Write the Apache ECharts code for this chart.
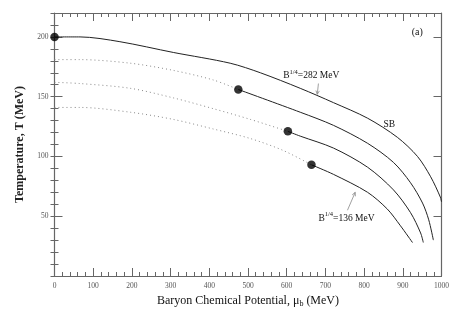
<!DOCTYPE html>
<html>
<head>
<meta charset="utf-8">
<script src="https://cdn.jsdelivr.net/npm/echarts@6/dist/echarts.min.js"></script>
<style>
  html, body { margin: 0; background: #fff; }
  #chart { width: 457px; height: 328px; }
</style>
</head>
<body>
<div id="chart"></div>
<script>
// top curve (SB), solid from mu = 0
const sbMu = [0, 66, 169, 307, 454, 532, 635, 721, 809, 886, 938, 972, 997, 1000]
const sbT = [200, 200, 196, 187, 178, 170, 157, 145, 132, 116, 100, 83, 66, 62]

// B^1/4 = 282 MeV curve: dotted up to the dot, then solid
const c1DotMu = [0, 66, 196, 307, 410, 475]
const c1DotT = [181, 181, 178, 172, 164, 156]
const c1Mu = [475, 635, 721, 809, 876, 920, 951, 967, 979]
const c1T = [156, 137, 126, 111, 95, 78, 61, 47, 30]

// middle curve
const c2DotMu = [0, 66, 196, 307, 410, 506, 603]
const c2DotT = [162, 161, 157, 149, 140, 131, 121]
const c2Mu = [603, 635, 721, 809, 876, 920, 946, 953]
const c2T = [121, 117, 107, 91, 72, 53, 36, 28]

// B^1/4 = 136 MeV curve
const c3DotMu = [0, 66, 196, 307, 410, 506, 591, 664]
const c3DotT = [141, 141, 137, 131, 123, 115, 105, 93]
const c3Mu = [664, 721, 809, 860, 894, 925]
const c3T = [93, 85, 70, 56, 42, 28]

// critical end points
const dotMu = [0, 475, 603, 664]
const dotT = [200, 156, 121, 93]

const xTicks = [0, 100, 200, 300, 400, 500, 600, 700, 800, 900, 1000]
const yTicks = [50, 100, 150, 200]

const serif = 'Liberation Serif'
const axisCol = '#666'
const pairs = (xs, ys) => xs.map((x, i) => [x, ys[i]])

const chart = echarts.init(document.getElementById('chart'), null, { renderer: 'canvas' })

const solid = (data) => ({
  type: 'line', data, showSymbol: false, smooth: 0.3, silent: true,
  lineStyle: { color: '#222', width: 1 }
})
const dotted = (data) => ({
  type: 'line', data, showSymbol: false, smooth: 0.3, silent: true,
  lineStyle: { color: '#888', width: 1, type: [1, 3] }
})

const xBase = {
  type: 'value', min: 0, max: 1000, interval: 100,
  axisLine: { show: true, onZero: false, lineStyle: { color: axisCol, width: 1.2 } },
  axisTick: { show: true, inside: true, length: 8, lineStyle: { color: axisCol } },
  minorTick: { show: true, splitNumber: 5, length: 4, lineStyle: { color: axisCol } },
  splitLine: { show: false }, minorSplitLine: { show: false }
}
const yMajor = {
  type: 'value', min: 0, max: 220, interval: 50, offset: 0,
  axisLine: { show: true, onZero: false, lineStyle: { color: axisCol, width: 1.2 } },
  axisTick: { show: true, inside: true, length: 8, lineStyle: { color: axisCol } },
  splitLine: { show: false }
}
const yMinor = {
  type: 'value', min: 0, max: 220, interval: 10, offset: 0,
  axisLine: { show: false },
  axisTick: { show: true, inside: true, length: 4, lineStyle: { color: axisCol } },
  axisLabel: { show: false },
  splitLine: { show: false }
}

chart.setOption({
  animation: false,
  grid: { left: 54.5, right: 15.5, top: 13, bottom: 52 },
  xAxis: [
    Object.assign({}, xBase, {
      position: 'bottom',
      axisLabel: {
        fontFamily: serif, fontSize: 7.5, color: '#555', margin: 6,
        formatter: v => xTicks.includes(v) ? String(v) : ''
      },
      name: '{n|Baryon Chemical Potential, μ}{s|b}{n| (MeV)}',
      nameLocation: 'middle', nameGap: 16,
      nameTextStyle: {
        rich: {
          n: { fontFamily: serif, fontSize: 12, color: '#111' },
          s: { fontFamily: serif, fontSize: 8, color: '#111', padding: [6, 0, 0, 0] }
        }
      }
    }),
    Object.assign({}, xBase, { position: 'top', axisLabel: { show: false } })
  ],
  yAxis: [
    Object.assign({}, yMajor, {
      position: 'left',
      axisLabel: {
        fontFamily: serif, fontSize: 7.5, color: '#555', margin: 6,
        formatter: v => yTicks.includes(v) ? String(v) : ''
      },
      name: 'Temperature, T (MeV)',
      nameLocation: 'middle', nameGap: 27,
      nameTextStyle: { fontFamily: serif, fontSize: 12, fontWeight: 'bold', color: '#222' }
    }),
    Object.assign({}, yMinor, { position: 'left' }),
    Object.assign({}, yMajor, { position: 'right', axisLabel: { show: false } }),
    Object.assign({}, yMinor, { position: 'right' })
  ],
  series: [
    solid(pairs(sbMu, sbT)),
    dotted(pairs(c1DotMu, c1DotT)), solid(pairs(c1Mu, c1T)),
    dotted(pairs(c2DotMu, c2DotT)), solid(pairs(c2Mu, c2T)),
    dotted(pairs(c3DotMu, c3DotT)), solid(pairs(c3Mu, c3T)),
    {
      type: 'scatter', data: pairs(dotMu, dotT), symbolSize: 8.5, clip: false, z: 5,
      itemStyle: { color: '#000' }
    }
  ]
})

// annotations, placed in data coordinates
const px = (mu, t) => chart.convertToPixel({ xAxisIndex: 0, yAxisIndex: 0 }, [mu, t])
const richB = {
  n: { fontFamily: serif, fontSize: 9.5, color: '#111' },
  s: { fontFamily: serif, fontSize: 6.5, color: '#111', padding: [0, 0, 7, 0] }
}
const label = (mu, t, text, rich) => {
  const p = px(mu, t)
  return {
    type: 'text', x: p[0], y: p[1], z: 10,
    style: { text, rich, fill: '#111', font: '10px ' + serif, verticalAlign: 'middle', align: 'left' }
  }
}
const arrow = (from, to) => {
  const a = px(from[0], from[1]), b = px(to[0], to[1])
  const ang = Math.atan2(b[1] - a[1], b[0] - a[0])
  const h = 4
  const h1 = [b[0] - h * Math.cos(ang - 0.45), b[1] - h * Math.sin(ang - 0.45)]
  const h2 = [b[0] - h * Math.cos(ang + 0.45), b[1] - h * Math.sin(ang + 0.45)]
  return [
    { type: 'line', z: 10, shape: { x1: a[0], y1: a[1], x2: b[0], y2: b[1] }, style: { stroke: '#888', lineWidth: 0.8 } },
    { type: 'polyline', z: 10, shape: { points: [h1, b, h2] }, style: { stroke: '#888', lineWidth: 0.8, fill: null } }
  ]
}

chart.setOption({
  graphic: [
    label(591, 167.5, '{n|B}{s|1/4}{n|=282 MeV}', richB),
    ...arrow([682, 161], [679, 152]),
    label(850, 127, '{n|SB}', richB),
    label(682, 48.5, '{n|B}{s|1/4}{n|=136 MeV}', richB),
    ...arrow([757, 55], [777, 70]),
    label(923, 204, '(a)', null)
  ]
})
</script>
</body>
</html>
